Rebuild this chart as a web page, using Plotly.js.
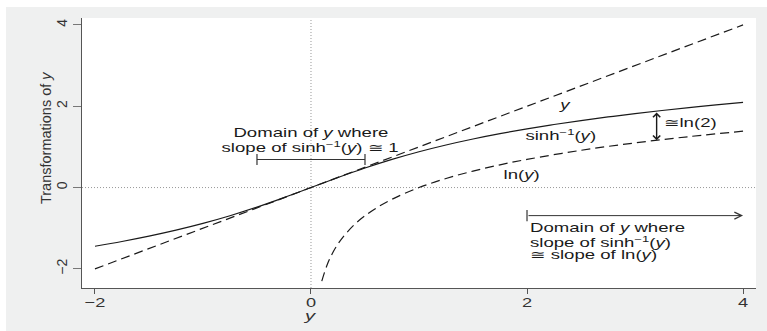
<!DOCTYPE html>
<html><head><meta charset="utf-8">
<script src="https://cdn.plot.ly/plotly-3.0.1.min.js"></script>
<style>html,body{margin:0;padding:0;background:#fff}</style>
</head><body><div id="chart" style="width:767px;height:331px"></div>
<script>
// identity line y
const idX = [-2, 4];
const idY = [-2, 4];
// inverse hyperbolic sine
const asX = [-2,-1.75,-1.5,-1.25,-1,-0.75,-0.5,-0.25,0,0.25,0.5,0.75,1,1.25,1.5,1.75,2,2.25,2.5,2.75,3,3.25,3.5,3.75,4];
const asY = [-1.4436,-1.3259,-1.1948,-1.0476,-0.8814,-0.6931,-0.4812,-0.2475,0,0.2475,0.4812,0.6931,0.8814,1.0476,1.1948,1.3259,1.4436,1.5502,1.6472,1.7363,1.8184,1.8947,1.9657,2.0322,2.0947];
// natural log
const lnX = [0.1,0.15,0.2,0.25,0.3,0.4,0.5,0.6,0.75,1,1.25,1.5,1.75,2,2.5,3,3.5,4];
const lnY = [-2.3026,-1.8971,-1.6094,-1.3863,-1.2040,-0.9163,-0.6931,-0.5108,-0.2877,0,0.2231,0.4055,0.5596,0.6931,0.9163,1.0986,1.2528,1.3863];
// bracket: domain where slope of asinh ~ 1
const bracketX = [-0.5, 0.5];
const bracketY = [0.69, 0.69];
// arrow: domain where slopes match
const arrowX = [2, 4];
const arrowY = [-0.69, -0.69];
// ln(2) gap marker
const gapX = 3.2;
const gapTop = 1.8818;
const gapBottom = 1.1632;
const xTicks = [-2, 0, 2, 4];
const yTicks = [-2, 0, 2, 4];
// text labels
const topLines = ['Domain of <i>y</i> where', 'slope of sinh<sup>−1</sup>(<i>y</i>) ≅ 1'];
const topLineY = [1.33, 0.99];
const botLines = ['Domain of <i>y</i> where', 'slope of sinh<sup>−1</sup>(<i>y</i>)', '≅ slope of ln(<i>y</i>)'];
const botLineY = [-0.99, -1.33, -1.67];

const font = "'Liberation Sans', Arial, Helvetica, sans-serif";
const ink = '#1a1a1a';
const fs = 12;
const STRETCH = 1.55;

const traces = [
  {x: idX, y: idY, mode: 'lines', line: {color: ink, width: 1.2, dash: '9px,5px'}, hoverinfo: 'skip'},
  {x: asX, y: asY, mode: 'lines', line: {color: ink, width: 1.2, shape: 'spline'}, hoverinfo: 'skip'},
  {x: lnX, y: lnY, mode: 'lines', line: {color: ink, width: 1.2, dash: '9px,5px', shape: 'spline'}, hoverinfo: 'skip'},
  {x: bracketX, y: bracketY, mode: 'lines+markers', line: {color: '#333', width: 1.2},
   marker: {symbol: 'line-ns-open', size: 8, color: '#333', line: {color: '#333', width: 1.2}}, hoverinfo: 'skip'},
  {x: [arrowX[0]], y: [arrowY[0]], mode: 'markers',
   marker: {symbol: 'line-ns-open', size: 8, color: '#333', line: {color: '#333', width: 1.2}}, hoverinfo: 'skip'}
];

const ann = [
  {x: 2.35, y: 2.04, text: '<i>y</i>', showarrow: false},
  {x: 2.31, y: 1.3, text: 'sinh<sup>−1</sup>(<i>y</i>)', showarrow: false},
  {x: 1.95, y: 0.32, text: 'ln(<i>y</i>)', showarrow: false},
  {x: 3.25, y: 1.6, text: '≅ln(2)', showarrow: false, xanchor: 'left'},
  {x: gapX, y: gapBottom, ax: gapX, ay: gapTop, axref: 'x', ayref: 'y', text: '', showarrow: true,
   arrowside: 'end+start', arrowhead: 4, startarrowhead: 4, arrowsize: 1, startarrowsize: 1, arrowwidth: 1.4, arrowcolor: ink},
  {x: arrowX[1], y: arrowY[1], ax: arrowX[0], ay: arrowY[0], axref: 'x', ayref: 'y', text: '', showarrow: true,
   arrowhead: 5, arrowsize: 1.4, arrowwidth: 1, arrowcolor: '#333'},
  {xref: 'paper', yref: 'paper', x: -0.068, y: 0.556, text: 'Transformations of <i>y</i>', textangle: -90, showarrow: false,
   noStretch: true, font: {family: font, size: 14.5, color: '#333'}},
  {xref: 'x', yref: 'paper', x: 0, y: -0.102, text: '<i>y</i>', showarrow: false, yanchor: 'middle',
   font: {family: font, size: 13, color: '#333'}}
];
topLines.forEach((t, i) => ann.push({x: 0, y: topLineY[i], text: t, showarrow: false}));
botLines.forEach((t, i) => ann.push({x: 2.01, y: botLineY[i], text: t, showarrow: false, xanchor: 'left'}));
ann.forEach(a => { if (!a.font) a.font = {family: font, size: fs, color: ink}; });

const layout = {
  width: 767, height: 331,
  margin: {l: 82, r: 11, t: 18, b: 43, pad: 0},
  paper_bgcolor: '#ffffff',
  plot_bgcolor: 'rgba(0,0,0,0)',
  showlegend: false,
  font: {family: font, size: 13, color: '#333'},
  xaxis: {
    range: [-2.12, 4.12], tickvals: xTicks, ticktext: xTicks.map(v => v < 0 ? '−' + Math.abs(v) : String(v)),
    showgrid: false, zeroline: false, showline: true, linecolor: '#555', linewidth: 1,
    ticks: 'outside', ticklen: 5, tickcolor: '#555', tickfont: {family: font, size: 13, color: '#333'},
    ticklabelstandoff: -3,
    automargin: false, fixedrange: true
  },
  yaxis: {
    range: [-2.47, 4.17], tickvals: yTicks, ticktext: yTicks.map(v => v < 0 ? '−' + Math.abs(v) : String(v)),
    tickangle: -90,
    showgrid: false, zeroline: false, showline: true, linecolor: '#555', linewidth: 1,
    ticks: 'outside', ticklen: 8, tickcolor: '#777', tickfont: {family: font, size: 14, color: '#333'},
    automargin: false, fixedrange: true
  },
  shapes: [
    {type: 'rect', xref: 'paper', yref: 'paper', x0: -0.1128, x1: 1.0163, y0: -0.160, y1: 1.0407,
     fillcolor: '#eff0f0', line: {width: 0}, layer: 'below'},
    {type: 'rect', xref: 'paper', yref: 'paper', x0: 0, x1: 1, y0: 0, y1: 1,
     fillcolor: '#ffffff', line: {width: 0}, layer: 'below'},
    {type: 'line', xref: 'paper', yref: 'y', x0: 0, x1: 1, y0: 0, y1: 0,
     line: {color: '#999', width: 1, dash: '1px,2px'}, layer: 'below'},
    {type: 'line', xref: 'x', yref: 'paper', x0: 0, x1: 0, y0: 0, y1: 1,
     line: {color: '#999', width: 1, dash: '1px,2px'}, layer: 'below'}
  ],
  annotations: ann.map(a => { const c = Object.assign({}, a); delete c.noStretch; return c; })
};

function stretchText(el, anchorLeft, s) {
  const bb = el.getBBox();
  const cx = anchorLeft ? bb.x : bb.x + bb.width / 2;
  const prev = el.getAttribute('transform') || '';
  el.setAttribute('transform', prev + ' translate(' + cx + ',0) scale(' + s + ',1) translate(' + (-cx) + ',0)');
}

Plotly.newPlot('chart', traces, layout, {staticPlot: true, displayModeBar: false}).then(() => {
  document.querySelectorAll('g.annotation').forEach(g => {
    const i = +g.getAttribute('data-index');
    const a = ann[i];
    if (!a || a.noStretch) return;
    const t = g.querySelector('text.annotation-text');
    if (!t || !t.textContent) return;
    stretchText(t, a.xanchor === 'left', STRETCH);
  });
  document.querySelectorAll('g.xtick text').forEach(t => stretchText(t, false, 1.4));
});
</script></body></html>
